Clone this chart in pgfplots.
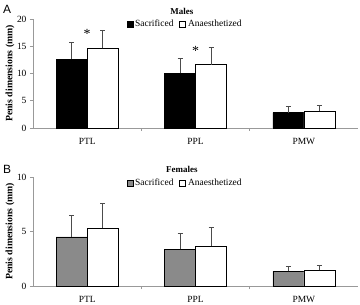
\documentclass[border=0pt]{standalone}
\usepackage{fontspec}
\setmainfont{Liberation Serif}
\newfontfamily\panelfont{Liberation Sans}
\usepackage{pgfplots}
\pgfplotsset{compat=1.18}

\definecolor{femgray}{HTML}{8A8A8A}
\definecolor{axisgray}{HTML}{999999}

\pgfplotsset{
  dimpanel/.style={
    scale only axis, width=325bp, height=109bp,
    ybar=0pt, bar width=31bp,
    xmin=-0.5, xmax=2.5, ymin=0,
    xtick={0,1,2}, xticklabels={PTL,PPL,PMW},
    minor xtick={0.5,1.5},
    major x tick style={draw=none},
    minor x tick style={draw=axisgray, line width=0.6pt},
    minor tick length=3bp,
    ytick style={draw=axisgray, line width=0.6pt},
    major tick length=3bp,
    tick align=outside,
    axis x line*=bottom, axis y line*=left,
    axis line style={axisgray, line width=0.6pt, -},
    tick label style={font=\fontsize{9.5}{10}\selectfont},
    xticklabel style={yshift=-4bp},
    /pgf/number format/assume math mode=true,
    ylabel={\textbf{Penis dimensions (mm)}},
    ylabel style={at={(axis description cs:-0.071,0.5)}, anchor=center,
                  font=\fontsize{9.8}{10}\selectfont},
    legend columns=2,
    legend style={draw=none, fill=none, anchor=center,
                  font=\fontsize{9.5}{10}\selectfont,
                  /tikz/every even column/.append style={column sep=4bp},
                  inner sep=0pt},
    legend image code/.code={\draw[#1, line width=0.6pt] (0bp,-3bp) rectangle (6bp,3bp);},
    every axis plot/.append style={draw=black, line width=0.6pt},
    error bars/y dir=plus, error bars/y explicit,
    error bars/error bar style={draw=black!70, line width=0.9pt},
    error bars/error mark options={draw=black!70, line width=0.9pt, mark size=2.5bp, rotate=90},
    clip=false,
  }
}

\begin{document}
\begin{tikzpicture}
\useasboundingbox (0bp,0bp) rectangle (360bp,305bp);

% Panel A: males
\begin{axis}[dimpanel, at={(33bp,177bp)}, anchor=south west,
  ymax=20, ytick={0,5,10,15,20},
  legend style={at={(axis description cs:0.468,0.955)}}]
  \addplot[fill=black] coordinates {
    (0,12.6) +- (0,3.1)
    (1,10.0) +- (0,2.8)
    (2,2.8)  +- (0,1.1)
  };
  \addplot[fill=white] coordinates {
    (0,14.6) +- (0,3.3)
    (1,11.6) +- (0,3.2)
    (2,3.1)  +- (0,1.0)
  };
  \legend{Sacrificed, Anaesthetized}
  \node[font=\fontsize{9}{10}\selectfont\bfseries] at (axis description cs:0.458,1.065) {Males};
  \node[font=\fontsize{14}{14}\selectfont] at (axis cs:0,17.3) {*};
  \node[font=\fontsize{14}{14}\selectfont] at (axis cs:1,14.2) {*};
\end{axis}

% Panel B: females
\begin{axis}[dimpanel, at={(33bp,19bp)}, anchor=south west,
  ymax=10, ytick={0,5,10},
  legend style={at={(axis description cs:0.468,0.945)}}]
  \addplot[fill=femgray] coordinates {
    (0,4.5)  +- (0,2.0)
    (1,3.35) +- (0,1.5)
    (2,1.35) +- (0,0.4)
  };
  \addplot[fill=white] coordinates {
    (0,5.3)  +- (0,2.3)
    (1,3.65) +- (0,1.7)
    (2,1.45) +- (0,0.45)
  };
  \legend{Sacrificed, Anaesthetized}
  \node[font=\fontsize{9}{10}\selectfont\bfseries] at (axis description cs:0.458,1.065) {Females};
\end{axis}

\node[font=\panelfont\fontsize{12}{12}\selectfont] at (7bp,296bp) {A};
\node[font=\panelfont\fontsize{12}{12}\selectfont] at (7bp,136bp) {B};
\end{tikzpicture}
\end{document}
